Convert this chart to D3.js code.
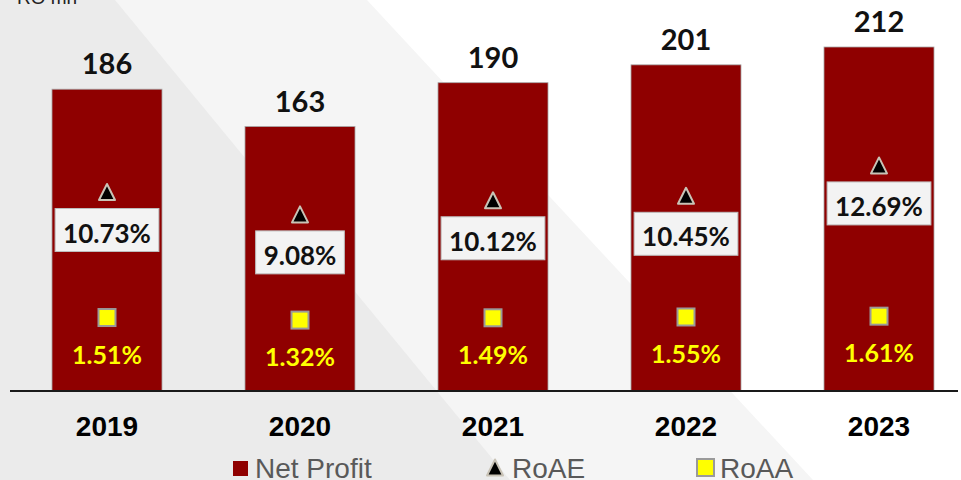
<!DOCTYPE html>
<html>
<head>
<meta charset="utf-8">
<script src="https://cdn.jsdelivr.net/npm/d3@7"></script>
<style>
  html, body { margin: 0; padding: 0; background: #fff; }
  svg { display: block; }
</style>
</head>
<body>
<svg id="chart" width="961" height="480"></svg>
<script>
// Net profit (RO mn) with return ratios (%)
const years = ["2019", "2020", "2021", "2022", "2023"];
const netProfit = [186, 163, 190, 201, 212];
const roae = [10.73, 9.08, 10.12, 10.45, 12.69];
const roaa = [1.51, 1.32, 1.49, 1.55, 1.61];
const legendLabels = ["Net Profit", "RoAE", "RoAA"];
const unitLabel = "RO mn";

const W = 961, H = 480;
const svg = d3.select("#chart");

// soft diagonal backdrop
svg.append("rect").attr("width", W).attr("height", H).attr("fill", "#ffffff");
svg.append("polygon").attr("points", "0,0 367,0 813,480 0,480").attr("fill", "#f5f5f5");
svg.append("polygon").attr("points", "0,0 115,0 510,480 0,480").attr("fill", "#ebebeb");

const baseY = 391;
const x = d3.scaleBand().domain(years).range([10.5, 975.5]).paddingInner(0.43).paddingOuter(0.215);
const y = d3.scaleLinear().domain([0, 212]).range([baseY, 47]);
const y2 = d3.scaleLinear().domain([0, 25]).range([338, -1]);

const numFont = "Lato, 'Open Sans', sans-serif";
const rows = years.map((yr, i) => ({ yr, np: netProfit[i], e: roae[i], a: roaa[i] }));
const cx = d => x(d.yr) + x.bandwidth() / 2;

// bars
svg.append("g").selectAll("rect").data(rows).join("rect")
  .attr("x", d => x(d.yr)).attr("y", d => y(d.np))
  .attr("width", x.bandwidth()).attr("height", d => y(0) - y(d.np))
  .attr("fill", "#8f0000").attr("stroke", "#a8a8a8").attr("stroke-width", 0.8);

// values above bars
svg.append("g").selectAll("text").data(rows).join("text")
  .attr("x", cx).attr("y", d => y(d.np) - 15)
  .attr("text-anchor", "middle").attr("font-family", numFont)
  .attr("font-weight", 700).attr("font-size", 29).attr("fill", "#111")
  .text(d => d.np);

// x axis
const xAxis = d3.axisBottom(x).tickSize(0).tickPadding(0);
const gx = svg.append("g").attr("transform", `translate(0,${baseY})`).call(xAxis);
gx.select(".domain").remove();
gx.selectAll("text")
  .attr("y", 45).attr("dy", 0)
  .attr("font-family", "'Liberation Sans', Arial, sans-serif")
  .attr("font-weight", 700).attr("font-size", 28).attr("fill", "#000");
svg.append("line").attr("x1", 10).attr("x2", 958).attr("y1", baseY).attr("y2", baseY)
  .attr("stroke", "#1a1a1a").attr("stroke-width", 2);

// triangle marker path, centred on its origin
const triPath = "M0,-8.5L8,7.5L-8,7.5Z";

// RoAE markers and boxed labels
const ge = svg.append("g");
rows.forEach(d => {
  const my = y2(d.e);
  ge.append("path").attr("d", triPath)
    .attr("transform", `translate(${cx(d)},${my})`)
    .attr("fill", "#000").attr("stroke", "#c9c3b6").attr("stroke-width", 2)
    .attr("stroke-linejoin", "round");
  const box = ge.append("rect").attr("fill", "#f3f3f3").attr("stroke", "#bdbdbd").attr("stroke-width", 1);
  const t = ge.append("text").attr("x", cx(d)).attr("y", my + 50)
    .attr("text-anchor", "middle").attr("font-family", numFont)
    .attr("font-weight", 700).attr("font-size", 26).attr("fill", "#111")
    .text(d.e.toFixed(2) + "%");
  const tw = t.node().getComputedTextLength();
  box.attr("x", cx(d) - tw / 2 - 8).attr("width", tw + 16)
    .attr("y", my + 16).attr("height", 43);
});

// RoAA markers and labels
const ga = svg.append("g");
rows.forEach(d => {
  const my = y2(d.a);
  ga.append("rect").attr("x", cx(d) - 8.5).attr("y", my - 8.5)
    .attr("width", 17).attr("height", 17)
    .attr("fill", "#ffff00").attr("stroke", "#9a9a9a").attr("stroke-width", 2);
  ga.append("text").attr("x", cx(d)).attr("y", my + 46)
    .attr("text-anchor", "middle").attr("font-family", numFont)
    .attr("font-weight", 700).attr("font-size", 25).attr("fill", "#ffff00")
    .text(d.a.toFixed(2) + "%");
});

// unit label, clipped by top edge
svg.append("text").attr("x", 17).attr("y", 4)
  .attr("font-family", "'Liberation Sans', Arial, sans-serif").attr("font-size", 19)
  .attr("fill", "#222").text(unitLabel);

// legend
const legFont = "'Liberation Sans', Arial, sans-serif";
const lg = svg.append("g");
lg.append("rect").attr("x", 233).attr("y", 461).attr("width", 15).attr("height", 15).attr("fill", "#8f0000");
lg.append("text").attr("x", 255).attr("y", 478).attr("font-family", legFont).attr("font-size", 28)
  .attr("fill", "#595959").text(legendLabels[0]);
lg.append("path").attr("d", triPath)
  .attr("transform", "translate(495,468)")
  .attr("fill", "#000").attr("stroke", "#c9c3b6").attr("stroke-width", 2)
  .attr("stroke-linejoin", "round");
lg.append("text").attr("x", 512).attr("y", 478).attr("font-family", legFont).attr("font-size", 28)
  .attr("fill", "#595959").text(legendLabels[1]);
lg.append("rect").attr("x", 697).attr("y", 459).attr("width", 17).attr("height", 17)
  .attr("fill", "#ffff00").attr("stroke", "#9a9a9a").attr("stroke-width", 2);
lg.append("text").attr("x", 720).attr("y", 478).attr("font-family", legFont).attr("font-size", 28)
  .attr("fill", "#595959").text(legendLabels[2]);
</script>
</body>
</html>
